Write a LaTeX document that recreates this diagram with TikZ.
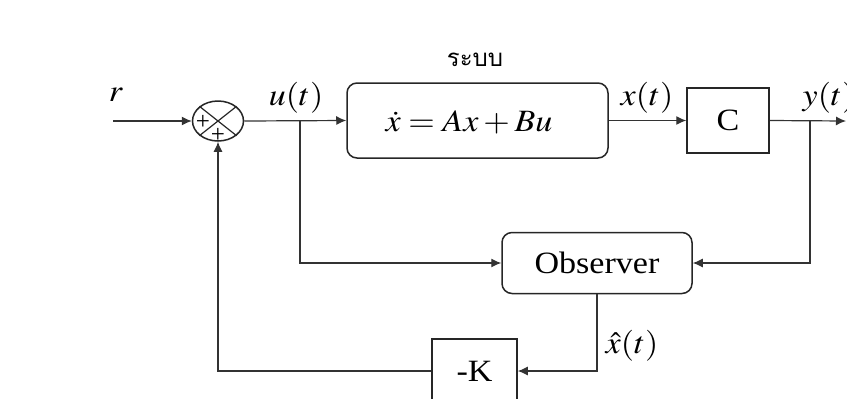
\documentclass[tikz,border=0pt]{standalone}
\usepackage{mathptmx}
\usepackage{fontspec}
\setmainfont{Liberation Serif}
\newfontfamily\thaifont[Script=Thai]{Loma}
\usepackage{graphicx}
\usepackage{tikz}
\usetikzlibrary{arrows.meta,calc,shapes.geometric}
\usetikzlibrary{positioning}

\newcommand{\hstr}[1]{\scalebox{1.1}[1]{#1}}

\tikzset{
  blk/.style={draw=black!85, line width=0.75pt, inner sep=0pt},
  rblk/.style={blk, rounded corners=5pt},
  sig/.style={-{Latex[length=5pt, width=4.5pt]}, draw=black!80, line width=0.6pt},
  lbl/.style={inner sep=0pt}
}

\begin{document}
\begin{tikzpicture}[x=0.5pt, y=-0.5pt, font=\fontsize{15.5}{18}\selectfont]
                \useasboundingbox (0,0) rectangle (847,398);
                \node[blk, ellipse, minimum width=25.5pt, minimum height=20pt] (sum) at (218,121) {};
                \draw[black!85, line width=0.6pt] (sum.north west) -- (sum.south east);
                \draw[black!85, line width=0.6pt] (sum.north east) -- (sum.south west);
                \node[lbl, font=\fontsize{12.5}{14}\selectfont] (plA) at (203,122) {+};
                \node[lbl, font=\fontsize{12.5}{14}\selectfont] (plB) at (218,135) {+};
                \node[rblk, minimum width=130.5pt, minimum height=37.5pt] (sys) at (477.5,120.5) {};
                \node[lbl] (eq) at (469,122) {\hstr{$\dot{x} = Ax + Bu$}};
                \node[blk, minimum width=41pt, minimum height=32.5pt] (c) at (728,120.5) {\hstr{C}};
                \node[rblk, minimum width=95pt, minimum height=30.5pt] (obs) at (597,263) {\hstr{Observer}};
                \node[blk, minimum width=42.5pt, minimum height=32pt] (k) at (474.5,371) {\hstr{-K}};
                \coordinate (in) at (113,121);
                \coordinate (out) at (846,121);
                \coordinate (uB) at (300,121);
                \coordinate (yB) at (810,121);
                \draw[sig] (in) -- (sum.west);
                \draw[sig] (sum.east) -- (sys.west);
                \draw[sig] (sys.east) -- (c.west);
                \draw[sig] (c.east) -- (out);
                \draw[sig] (uB) |- (obs.west);
                \draw[sig] (yB) |- (obs.east);
                \draw[sig] (obs.south) |- (k.east);
                \draw[sig] (k.west) -| (sum.south);
                \node[lbl] (lr) at (116,95) {\hstr{$r$}};
                \node[lbl] (lu) at (296,98) {\hstr{$u(t)$}};
                \node[lbl] (lx) at (647,98) {\hstr{$x(t)$}};
                \node[lbl] (ly) at (829,98) {\hstr{$y(t)$}};
                \node[lbl] (lxh) at (632,346) {\hstr{$\hat{x}(t)$}};
                \node[lbl, font=\thaifont\fontsize{12}{14}\selectfont] (lsys) at (475,60) {ระบบ};
            \end{tikzpicture}
\end{document}
